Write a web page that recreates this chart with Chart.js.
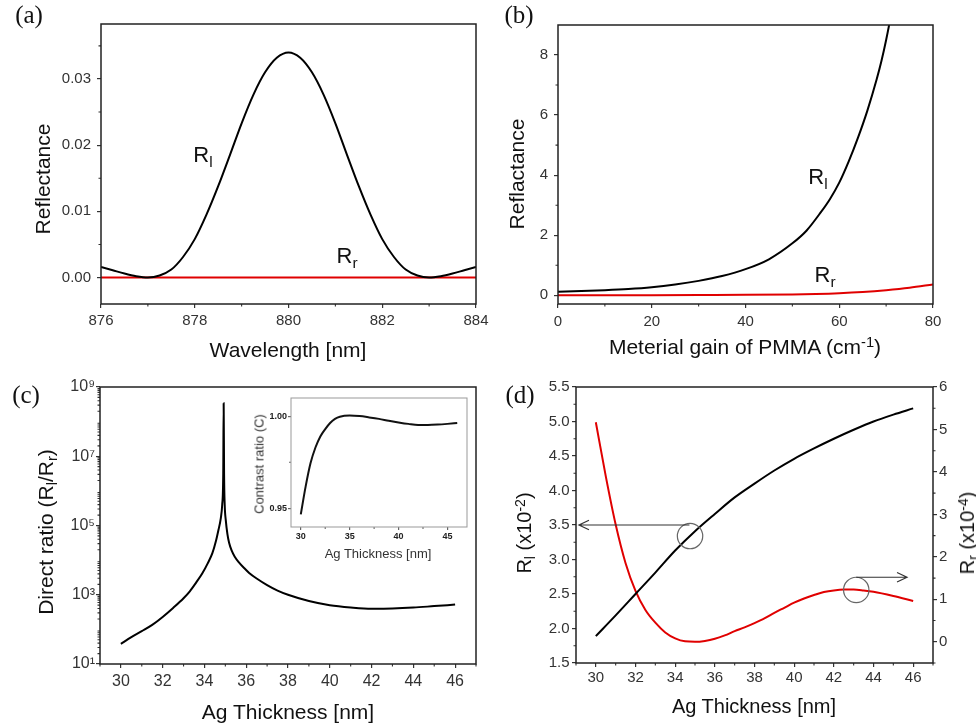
<!DOCTYPE html>
<html>
<head>
<meta charset="utf-8">
<script src="https://cdn.jsdelivr.net/npm/chart.js@4.4.0/dist/chart.umd.min.js"></script>
<style>
  body { margin: 0; background: #fff; width: 976px; height: 723px; overflow: hidden; position: relative;
         font-family: "Liberation Sans", Arial, sans-serif; }
  canvas { position: absolute; }
  .t { position: absolute; white-space: nowrap; line-height: 1; color: #111; transform: translate(-50%, -50%); }
  .v { transform: translate(-50%, -50%) rotate(-90deg); }
  .p { font-family: "Liberation Serif", "Times New Roman", serif; font-size: 25px; }
  sub { font-size: 70%; vertical-align: baseline; position: relative; top: 0.3em; }
  sup { font-size: 70%; vertical-align: baseline; position: relative; top: -0.45em; }
</style>
</head>
<body>
<canvas id="chartA" style="left:0;top:0" width="490" height="365"></canvas>
<canvas id="chartB" style="left:490px;top:0" width="486" height="365"></canvas>
<canvas id="chartC" style="left:0;top:365px" width="490" height="358"></canvas>
<canvas id="chartInset" style="left:245px;top:395px" width="227" height="170"></canvas>
<canvas id="chartD" style="left:490px;top:365px" width="486" height="358"></canvas>

<div class="t p" style="left:29px;top:14px">(a)</div>
<div class="t p" style="left:519px;top:14px">(b)</div>
<div class="t p" style="left:26px;top:394px">(c)</div>
<div class="t p" style="left:520px;top:394px">(d)</div>

<div class="t" style="left:288px;top:349px;font-size:21px">Wavelength [nm]</div>
<div class="t v" style="left:42px;top:179px;font-size:21px">Reflectance</div>
<div class="t" style="left:203px;top:155px;font-size:22px">R<sub>l</sub></div>
<div class="t" style="left:347px;top:256px;font-size:22px">R<sub>r</sub></div>

<div class="t" style="left:745px;top:346px;font-size:21px">Meterial gain of PMMA (cm<sup>-1</sup>)</div>
<div class="t v" style="left:516px;top:174px;font-size:21px">Reflactance</div>
<div class="t" style="left:818px;top:177px;font-size:22px">R<sub>l</sub></div>
<div class="t" style="left:825px;top:275px;font-size:22px">R<sub>r</sub></div>

<div class="t" style="left:288px;top:711px;font-size:21px">Ag Thickness [nm]</div>
<div class="t v" style="left:45px;top:532px;font-size:21px">Direct ratio (R<sub>l</sub>/R<sub>r</sub>)</div>
<div class="t v" style="left:259px;top:464px;font-size:13px;color:#333">Contrast ratio (C)</div>
<div class="t" style="left:378px;top:553px;font-size:13px;color:#333">Ag Thickness [nm]</div>

<div class="t" style="left:754px;top:706px;font-size:20px">Ag Thickness [nm]</div>
<div class="t v" style="left:524px;top:533px;font-size:20px">R<sub>l</sub> (x10<sup>-2</sup>)</div>
<div class="t v" style="left:967px;top:533px;font-size:20px">R<sub>r</sub> (x10<sup>-4</sup>)</div>

<script>
const FONT = "'Liberation Sans', Arial, sans-serif";

// (a) reflectance vs wavelength
const wavelength = [876, 876.25, 876.5, 876.75, 877, 877.25, 877.5, 877.75, 878, 878.25, 878.5, 878.75,
  879, 879.25, 879.5, 879.75, 880, 880.25, 880.5, 880.75, 881, 881.25, 881.5, 881.75,
  882, 882.25, 882.5, 882.75, 883, 883.25, 883.5, 883.75, 884];
const rlA = [0.0016, 0.0011, 0.0006, 0.0002, 0.0000, 0.0003, 0.0012, 0.0031, 0.0058, 0.0095, 0.0138, 0.0185,
  0.0233, 0.0276, 0.0310, 0.0332, 0.0340, 0.0332, 0.0310, 0.0276, 0.0233, 0.0185, 0.0138, 0.0095,
  0.0058, 0.0031, 0.0012, 0.0003, 0.0000, 0.0002, 0.0006, 0.0011, 0.0016];
const wavelengthR = [876, 878, 880, 882, 884];
const rrA = [0, 0, 0, 0, 0];
const ticksAx = [876, 878, 880, 882, 884];
const labelsAx = ['876', '878', '880', '882', '884'];
const ticksAy = [0, 0.01, 0.02, 0.03];
const labelsAy = ['0.00', '0.01', '0.02', '0.03'];

// (b) reflectance vs material gain
const gainB = [0, 5, 10, 15, 20, 25, 30, 35, 40, 45, 50, 53, 56, 58, 60, 62, 64, 66, 68, 69, 70, 71, 72];
const rlB = [0.12, 0.14, 0.17, 0.21, 0.27, 0.36, 0.48, 0.64, 0.87, 1.2, 1.73, 2.15, 2.75, 3.2, 3.75, 4.45,
  5.25, 6.15, 7.2, 7.8, 8.5, 9.3, 10.2];
const gainBr = [0, 10, 20, 30, 40, 50, 55, 60, 65, 70, 75, 80];
const rrB = [0, 0, 0.005, 0.01, 0.015, 0.03, 0.045, 0.07, 0.11, 0.17, 0.25, 0.36];
const ticksBx = [0, 20, 40, 60, 80];
const labelsBx = ['0', '20', '40', '60', '80'];
const ticksBy = [0, 2, 4, 6, 8];
const labelsBy = ['0', '2', '4', '6', '8'];

// (c) direct ratio vs Ag thickness (log)
const thickC = [30, 30.5, 31, 31.5, 32, 32.5, 33, 33.3, 33.6, 33.9, 34.15, 34.38, 34.55, 34.67, 34.78, 34.85,
  34.9, 34.92, 34.94, 34.97, 35.02, 35.1, 35.18, 35.3, 35.45, 35.66, 35.9, 36.14, 36.5, 37, 37.5, 38, 39, 40, 41,
  42, 43, 44, 45, 46];
const ratioC = [38, 60, 89, 135, 229, 417, 794, 1259, 2239, 4169, 7943, 15849, 35481, 74131, 158489, 398107,
  3.16e6, 3.39e8, 3.16e6, 3.98e5, 1.45e5, 5.6e4, 3.16e4, 1.9e4, 1.26e4, 8500, 5900, 4270, 2950, 1900, 1320, 1000,
  660, 500, 430, 395, 400, 425, 470, 520];
const ticksCx = [30, 32, 34, 36, 38, 40, 42, 44, 46];
const labelsCx = ['30', '32', '34', '36', '38', '40', '42', '44', '46'];
const ticksCy = [1e1, 1e3, 1e5, 1e7, 1e9];
const labelsCy = ['10\u00b9', '10\u00b3', '10\u2075', '10\u2077', '10\u2079'];

// (c) inset: contrast ratio
const thickIn = [30, 30.5, 31, 31.5, 32, 32.5, 33, 33.5, 34, 35, 36, 37, 38, 39, 40, 41, 42, 43, 44, 45, 46];
const contrastIn = [0.9468, 0.962, 0.9746, 0.983, 0.989, 0.993, 0.9963, 0.9985, 0.9997, 1.0003, 1.0, 0.9993,
  0.9985, 0.9975, 0.9966, 0.9958, 0.9952, 0.9952, 0.9954, 0.9958, 0.9963];
const ticksInx = [30, 35, 40, 45];
const labelsInx = ['30', '35', '40', '45'];
const ticksIny = [0.95, 1.0];
const labelsIny = ['0.95', '1.00'];

// (d) Rl and Rr vs Ag thickness
const thickD = [30, 31, 32, 33, 34, 35, 36, 37, 38, 39, 40, 41, 42, 43, 44, 45, 46];
const rlD = [1.89, 2.19, 2.5, 2.81, 3.13, 3.41, 3.66, 3.9, 4.1, 4.29, 4.46, 4.61, 4.75, 4.88, 5.0, 5.1, 5.19];
const thickDr = [30, 30.5, 31, 31.5, 32, 32.5, 33, 33.5, 34, 34.5, 35, 35.5, 36, 36.5, 37, 37.5, 38, 38.5,
  39, 39.5, 40, 40.5, 41, 41.5, 42, 42.5, 43, 43.5, 44, 45, 46];
const rrD = [5.17, 3.9, 2.76, 1.85, 1.2, 0.75, 0.45, 0.22, 0.08, 0.01, 0.0, 0.02, 0.07, 0.15, 0.25, 0.34, 0.44,
  0.55, 0.68, 0.8, 0.92, 1.02, 1.1, 1.17, 1.21, 1.23, 1.23, 1.21, 1.18, 1.08, 0.96];
const ticksDx = [30, 32, 34, 36, 38, 40, 42, 44, 46];
const labelsDx = ['30', '32', '34', '36', '38', '40', '42', '44', '46'];
const ticksDy = [1.5, 2.0, 2.5, 3.0, 3.5, 4.0, 4.5, 5.0, 5.5];
const labelsDy = ['1.5', '2.0', '2.5', '3.0', '3.5', '4.0', '4.5', '5.0', '5.5'];
const ticksDy2 = [0, 1, 2, 3, 4, 5, 6];
const labelsDy2 = ['0', '1', '2', '3', '4', '5', '6'];
// circles and arrows that point each curve to its axis
const circlesD = [{ x: 34.75, y: 3.34, axis: 'y' }, { x: 43.13, y: 1.22, axis: 'y2' }];
const arrowsD = [{ from: 34.72, to: 29.15, y: 3.5, axis: 'y' }, { from: 43.13, to: 45.69, y: 1.52, axis: 'y2' }];

// minor tick helper
const range = (a, b, step) => {
  const out = [];
  for (let v = a; v <= b + 1e-9; v += step) out.push(+v.toFixed(4));
  return out;
};
const logMinor = [];
for (let e = 1; e < 9; e++) for (let m = 2; m <= 9; m++) logMinor.push(m * Math.pow(10, e));

const pts = (xs, ys) => xs.map((x, i) => ({ x, y: ys[i] }));

const line = (xs, ys, color, axisId) => ({
  data: pts(xs, ys),
  borderColor: color,
  borderWidth: 2,
  pointRadius: 0,
  fill: false,
  cubicInterpolationMode: 'monotone',
  yAxisID: axisId || 'y'
});

function axis(o) {
  return {
    type: o.type || 'linear',
    position: o.position,
    min: o.min,
    max: o.max,
    border: { display: false },
    grid: { drawOnChartArea: false, drawTicks: true, tickLength: o.tl || 4, color: o.tickColor || '#333', lineWidth: 1.2 },
    ticks: {
      color: o.color || '#333',
      font: { family: FONT, size: o.size || 15, weight: o.weight || 'normal' },
      padding: o.pad,
      autoSkip: false,
      maxRotation: 0,
      minRotation: 0,
      callback: (v, i) => o.labels[i]
    },
    afterBuildTicks: (s) => { s.ticks = o.ticks.map((v) => ({ value: v })); },
    afterFit: (s) => {
      if (o.w !== undefined) s.width = o.w;
      if (o.h !== undefined) s.height = o.h;
      s.paddingTop = s.paddingBottom = s.paddingLeft = s.paddingRight = 0;
    }
  };
}

function options(padding, scales) {
  return {
    responsive: false,
    animation: false,
    devicePixelRatio: 1,
    events: [],
    layout: { padding },
    plugins: { legend: { display: false }, tooltip: { enabled: false } },
    scales
  };
}

// frame round the plot, minor ticks, and any extra drawing
function frame(minor, style, extra) {
  style = style || {};
  return {
    id: 'frame',
    beforeDraw(chart) {
      if (!style.fill) return;
      const a = chart.chartArea;
      chart.ctx.save();
      chart.ctx.fillStyle = style.fill;
      chart.ctx.fillRect(a.left, a.top, a.right - a.left, a.bottom - a.top);
      chart.ctx.restore();
    },
    afterDraw(chart) {
      const { ctx, chartArea: a, scales } = chart;
      const len = style.minorLen || 2.5;
      ctx.save();
      ctx.strokeStyle = style.tick || '#333';
      ctx.lineWidth = 1.1;
      ctx.beginPath();
      Object.keys(minor).forEach((id) => {
        const s = scales[id];
        minor[id].forEach((v) => {
          const p = s.getPixelForValue(v);
          if (s.position === 'bottom') { ctx.moveTo(p, a.bottom); ctx.lineTo(p, a.bottom + len); }
          else if (s.position === 'left') { ctx.moveTo(a.left, p); ctx.lineTo(a.left - len, p); }
          else { ctx.moveTo(a.right, p); ctx.lineTo(a.right + len, p); }
        });
      });
      ctx.stroke();
      ctx.lineWidth = style.width || 1.5;
      ctx.strokeStyle = style.color || '#222';
      ctx.strokeRect(a.left, a.top, a.right - a.left, a.bottom - a.top);
      if (extra) extra(chart);
      ctx.restore();
    }
  };
}

function drawMarksD(chart) {
  const { ctx, scales } = chart;
  ctx.lineWidth = 1.2;
  circlesD.forEach((c) => {
    const x = scales.x.getPixelForValue(c.x);
    const y = scales[c.axis].getPixelForValue(c.y);
    ctx.strokeStyle = '#666';
    ctx.beginPath();
    ctx.arc(x, y, 12.7, 0, Math.PI * 2);
    ctx.stroke();
  });
  arrowsD.forEach((ar) => {
    const x1 = scales.x.getPixelForValue(ar.from);
    const x2 = scales.x.getPixelForValue(ar.to);
    const y = scales[ar.axis].getPixelForValue(ar.y);
    const dir = Math.sign(x2 - x1);
    ctx.strokeStyle = '#333';
    ctx.beginPath();
    ctx.moveTo(x1, y);
    ctx.lineTo(x2, y);
    ctx.moveTo(x2 - dir * 10, y - 4.7);
    ctx.lineTo(x2, y);
    ctx.lineTo(x2 - dir * 10, y + 4.7);
    ctx.stroke();
  });
}

const RED = '#e00000';

// (a)
new Chart(document.getElementById('chartA'), {
  type: 'line',
  data: { datasets: [line(wavelength, rlA, '#000'), line(wavelengthR, rrA, RED)] },
  options: options({ left: 0, top: 24, right: 14, bottom: 0 }, {
    x: axis({ position: 'bottom', min: 876, max: 884, ticks: ticksAx, labels: labelsAx, h: 61, pad: 4 }),
    y: axis({ position: 'left', min: -0.004, max: 0.0383, ticks: ticksAy, labels: labelsAy, w: 101, pad: 6 })
  }),
  plugins: [frame({ x: range(877, 883, 2), y: range(0.005, 0.035, 0.01) })]
});

// (b)
new Chart(document.getElementById('chartB'), {
  type: 'line',
  data: { datasets: [line(gainB, rlB, '#000'), line(gainBr, rrB, RED)] },
  options: options({ left: 0, top: 25, right: 43, bottom: 0 }, {
    x: axis({ position: 'bottom', min: 0, max: 80, ticks: ticksBx, labels: labelsBx, h: 61, pad: 4.5 }),
    y: axis({ position: 'left', min: -0.29, max: 9.0, ticks: ticksBy, labels: labelsBy, w: 68, pad: 6 })
  }),
  plugins: [frame({ x: range(10, 70, 20), y: range(1, 7, 2) })]
});

// (c)
new Chart(document.getElementById('chartC'), {
  type: 'line',
  data: { datasets: [line(thickC, ratioC, '#000')] },
  options: options({ left: 0, top: 22, right: 14, bottom: 0 }, {
    x: axis({ position: 'bottom', min: 29, max: 47, ticks: ticksCx, labels: labelsCx, h: 59, pad: 4, size: 16 }),
    y: axis({ type: 'logarithmic', position: 'left', min: 10, max: 1e9, ticks: ticksCy, labels: labelsCy, w: 100, pad: 1, size: 16 })
  }),
  plugins: [frame({ x: range(29, 47, 2), y: logMinor })]
});

// (c) inset
new Chart(document.getElementById('chartInset'), {
  type: 'line',
  data: { datasets: [line(thickIn, contrastIn, '#111')] },
  options: options({ left: 0, top: 3, right: 5, bottom: 0 }, {
    x: axis({ position: 'bottom', min: 29, max: 47, ticks: ticksInx, labels: labelsInx, h: 38, pad: 1.5, tl: 3, size: 9, weight: 'bold', color: '#222', tickColor: '#666' }),
    y: axis({ position: 'left', min: 0.94, max: 1.0098, ticks: ticksIny, labels: labelsIny, w: 46, pad: 1, tl: 3, size: 9, weight: 'bold', color: '#222', tickColor: '#666' })
  }),
  plugins: [frame({ x: [32.5, 37.5, 42.5], y: [0.975] }, { fill: '#fff', color: '#999', width: 1, tick: '#666', minorLen: 2 })]
});

// (d)
new Chart(document.getElementById('chartD'), {
  type: 'line',
  data: { datasets: [line(thickD, rlD, '#000', 'y'), line(thickDr, rrD, RED, 'y2')] },
  options: options({ left: 0, top: 22, right: 0, bottom: 0 }, {
    x: axis({ position: 'bottom', min: 29, max: 47, ticks: ticksDx, labels: labelsDx, h: 60, pad: 2 }),
    y: axis({ position: 'left', min: 1.5, max: 5.5, ticks: ticksDy, labels: labelsDy, w: 86, pad: 2.5 }),
    y2: axis({ position: 'right', min: -0.5, max: 6, ticks: ticksDy2, labels: labelsDy2, w: 43, pad: 2 })
  }),
  plugins: [frame({ x: range(29, 47, 2), y: range(1.75, 5.25, 0.5), y2: range(-0.5, 5.5, 1) }, {}, drawMarksD)]
});
</script>
</body>
</html>
